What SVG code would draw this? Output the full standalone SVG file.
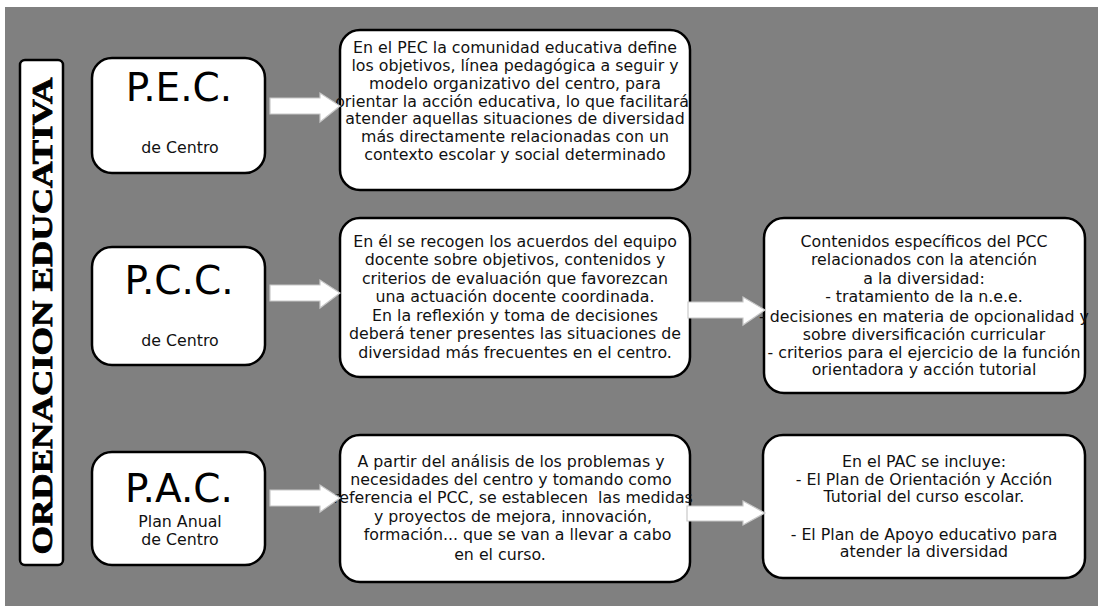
<svg xmlns="http://www.w3.org/2000/svg" width="1098" height="606" viewBox="0 0 1098 606">
<style>
.bg{fill:#808080}
.box{fill:#fff;stroke:#000;stroke-width:2.5}
.t{font-family:"DejaVu Sans",Verdana,sans-serif;font-size:15.8px;fill:#111;text-anchor:middle;white-space:pre}
.big{font-family:"DejaVu Sans",Verdana,sans-serif;font-size:39px;fill:#000;text-anchor:middle}
.arrow{fill:#fff;stroke:#c8c8c8;stroke-width:1.2}
.title{font-family:"Liberation Serif","Times New Roman",serif;font-weight:bold;font-size:30px;fill:#000;stroke:#000;stroke-width:0.8;text-anchor:middle}
</style>
<rect class="bg" x="5" y="7" width="1093" height="599"/>
<g id="title">
<rect x="20" y="60" width="43" height="505" rx="5" fill="#fff" stroke="#000" stroke-width="2.5"/>
<text class="title" transform="translate(52,316) rotate(-90)" textLength="477" lengthAdjust="spacingAndGlyphs">ORDENACION EDUCATIVA</text>
</g>
<g id="pec">
<rect class="box" x="92" y="58" width="173" height="115" rx="20"/>
<text class="big" x="179" y="101">P.E.C.</text>
<text class="t" x="180" y="153">de Centro</text>
</g>
<g id="pcc">
<rect class="box" x="92" y="247" width="173" height="118" rx="20"/>
<text class="big" x="179" y="294">P.C.C.</text>
<text class="t" x="180" y="346">de Centro</text>
</g>
<g id="pac">
<rect class="box" x="92" y="452" width="173" height="113" rx="20"/>
<text class="big" x="179" y="502">P.A.C.</text>
<text class="t" x="180" y="527">Plan Anual</text>
<text class="t" x="180" y="545">de Centro</text>
</g>
<g id="pec-desc">
<rect class="box" x="340" y="30" width="350" height="160" rx="20"/>
<text class="t" x="515" y="53">En el PEC la comunidad educativa define</text>
<text class="t" x="515" y="71">los objetivos, línea pedagógica a seguir y</text>
<text class="t" x="515" y="89">modelo organizativo del centro, para</text>
<text class="t" x="512" y="107">orientar la acción educativa, lo que facilitará</text>
<text class="t" x="515" y="124">atender aquellas situaciones de diversidad</text>
<text class="t" x="515" y="142">más directamente relacionadas con un</text>
<text class="t" x="515" y="160">contexto escolar y social determinado</text>
</g>
<g id="pcc-desc">
<rect class="box" x="340" y="218" width="350" height="159" rx="20"/>
<text class="t" x="515" y="247">En él se recogen los acuerdos del equipo</text>
<text class="t" x="515" y="265">docente sobre objetivos, contenidos y</text>
<text class="t" x="515" y="284">criterios de evaluación que favorezcan</text>
<text class="t" x="515" y="302">una actuación docente coordinada.</text>
<text class="t" x="515" y="321">En la reflexión y toma de decisiones</text>
<text class="t" x="515" y="339">deberá tener presentes las situaciones de</text>
<text class="t" x="515" y="358">diversidad más frecuentes en el centro.</text>
</g>
<g id="pcc-contents">
<rect class="box" x="764" y="218" width="321" height="175" rx="20"/>
<text class="t" x="924" y="247">Contenidos específicos del PCC</text>
<text class="t" x="924" y="265">relacionados con la atención</text>
<text class="t" x="924" y="284">a la diversidad:</text>
<text class="t" x="924" y="302">- tratamiento de la n.e.e.</text>
<text class="t" x="924" y="322">- decisiones en materia de opcionalidad y</text>
<text class="t" x="924" y="340">sobre diversificación curricular</text>
<text class="t" x="924" y="358">- criterios para el ejercicio de la función</text>
<text class="t" x="924" y="375">orientadora y acción tutorial</text>
</g>
<g id="pac-desc">
<rect class="box" x="340" y="435" width="350" height="147" rx="20"/>
<text class="t" x="511" y="467">A partir del análisis de los problemas y</text>
<text class="t" x="511" y="485">necesidades del centro y tomando como</text>
<text class="t" x="513" y="503">referencia el PCC, se establecen  las medidas</text>
<text class="t" x="513" y="522">y proyectos de mejora, innovación,</text>
<text class="t" x="515" y="540"> formación... que se van a llevar a cabo</text>
<text class="t" x="500" y="560">en el curso.</text>
</g>
<g id="pac-contents">
<rect class="box" x="763" y="435" width="322" height="143" rx="20"/>
<text class="t" x="924" y="467">En el PAC se incluye:</text>
<text class="t" x="924" y="485">- El Plan de Orientación y Acción</text>
<text class="t" x="924" y="502">Tutorial del curso escolar.</text>
<text class="t" x="924" y="540">- El Plan de Apoyo educativo para</text>
<text class="t" x="924" y="557">atender la diversidad</text>
</g>
<g id="connectors">
<polygon class="arrow" points="270,98 320,98 320,93 340,106 320,122 320,114 270,114"/>
<polygon class="arrow" points="270,285 320,285 320,280 340,293 320,308 320,301 270,301"/>
<polygon class="arrow" points="688,302 743,302 743,297 765,310 743,325 743,318 688,318"/>
<polygon class="arrow" points="270,490 320,490 320,485 340,498 320,512 320,506 270,506"/>
<polygon class="arrow" points="687,506 743,506 743,501 765,513 743,525 743,521 687,521"/>
</g>
</svg>
